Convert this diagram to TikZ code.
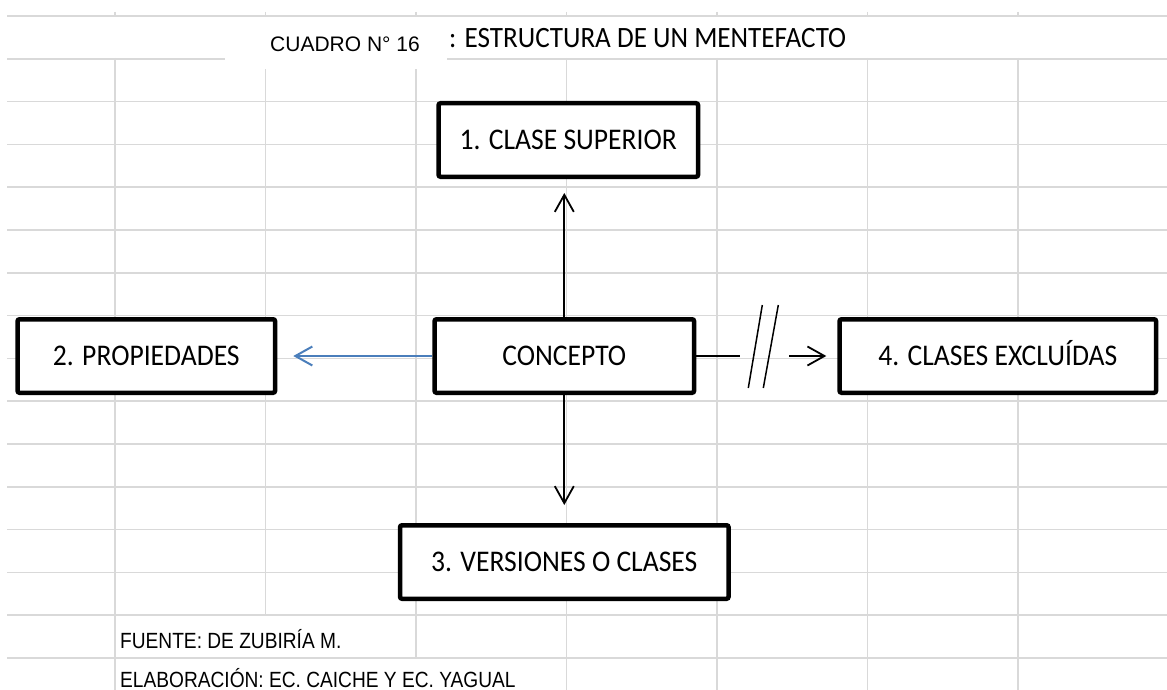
\documentclass[tikz,border=0pt]{standalone}
\usepackage{fontspec}
\newfontfamily\boxfont[FakeStretch=0.92]{Carlito}
\newfontfamily\cuadrofont{Liberation Sans}
\newfontfamily\notefont[FakeStretch=0.87]{Liberation Sans}
\definecolor{gridgray}{RGB}{217,217,217}
\definecolor{linkblue}{RGB}{74,126,187}
\usetikzlibrary{arrows.meta, positioning}

\begin{document}
\begin{tikzpicture}[
  x=1pt, y=-1pt,
  cell/.style={gridgray, line width=1.6pt},
  box/.style={draw, line width=4.5pt, fill=white, rounded corners=2pt,
              minimum height=73.5pt, text height=19.3pt, text depth=0pt,
              font=\boxfont\fontsize{30}{36}\selectfont},
  arr/.style={-{Straight Barb[length=17pt, width=19pt]}, line width=1.8pt},
  note/.style={anchor=base west, inner sep=0pt, font=\notefont\fontsize{22}{26}\selectfont}
]
\useasboundingbox (0,0) rectangle (1167,690);

\foreach \k in {0,...,15}
  \draw[cell] (7,{16+42.8*\k}) -- (1167,{16+42.8*\k});
\foreach \j/\e in {0/690, 1/614, 2/657, 3/690, 4/690, 5/690, 6/690} {
  \draw[cell] ({115+150.5*\j},12) -- ({115+150.5*\j},16);
  \draw[cell] ({115+150.5*\j},58) -- ({115+150.5*\j},\e);
}

\node[anchor=base west, inner sep=0pt, font=\boxfont\fontsize{29.5}{35}\selectfont]
  (titulo) at (449,48) {: ESTRUCTURA DE UN MENTEFACTO};
\node[fill=white, minimum width=222pt, minimum height=49pt, inner sep=0pt,
      text height=15pt, text depth=0pt, font=\cuadrofont\fontsize{21}{25}\selectfont]
  (cuadro) at (336,44.5) {\hspace*{18pt}CUADRO N° 16};

\node[box, minimum width=259.5pt] (concepto) at (564.3,356) {CONCEPTO};
\node[box, minimum width=259.5pt, above=138pt of concepto, xshift=4pt] (superior) {1. CLASE SUPERIOR};
\node[box, minimum width=257.5pt, left=155pt of concepto] (propiedades) {2. PROPIEDADES};
\node[box, minimum width=328.5pt, below=128pt of concepto] (versiones) {3. VERSIONES O CLASES};
\node[box, minimum width=316.5pt, right=141pt of concepto] (excluidas) {4. CLASES EXCLUÍDAS};

\draw[arr, shorten >=14pt] (concepto.north) -- (concepto.north |- superior.south);
\draw[arr, shorten >=18pt] (concepto.south) -- (versiones.north);
\draw[arr, linkblue, line width=2pt, shorten >=16pt] (concepto.west) -- (propiedades.east);

\coordinate (corte) at ([xshift=44pt]concepto.east);
\draw[line width=1.8pt] (concepto.east) -- (corte);
\draw[line width=1.5pt] ([shift={(8,32)}]corte) -- ([shift={(22,-51)}]corte);
\draw[line width=1.5pt] ([shift={(23,32)}]corte) -- ([shift={(38,-51)}]corte);
\draw[arr, shorten >=11pt] ([xshift=-48pt]excluidas.west) -- (excluidas.west);

\node[note] (fuente) at (120,648) {FUENTE: DE ZUBIRÍA M.};
\node[note] (elaboracion) at (120,687) {ELABORACIÓN: EC. CAICHE Y EC. YAGUAL};
\end{tikzpicture}
\end{document}
